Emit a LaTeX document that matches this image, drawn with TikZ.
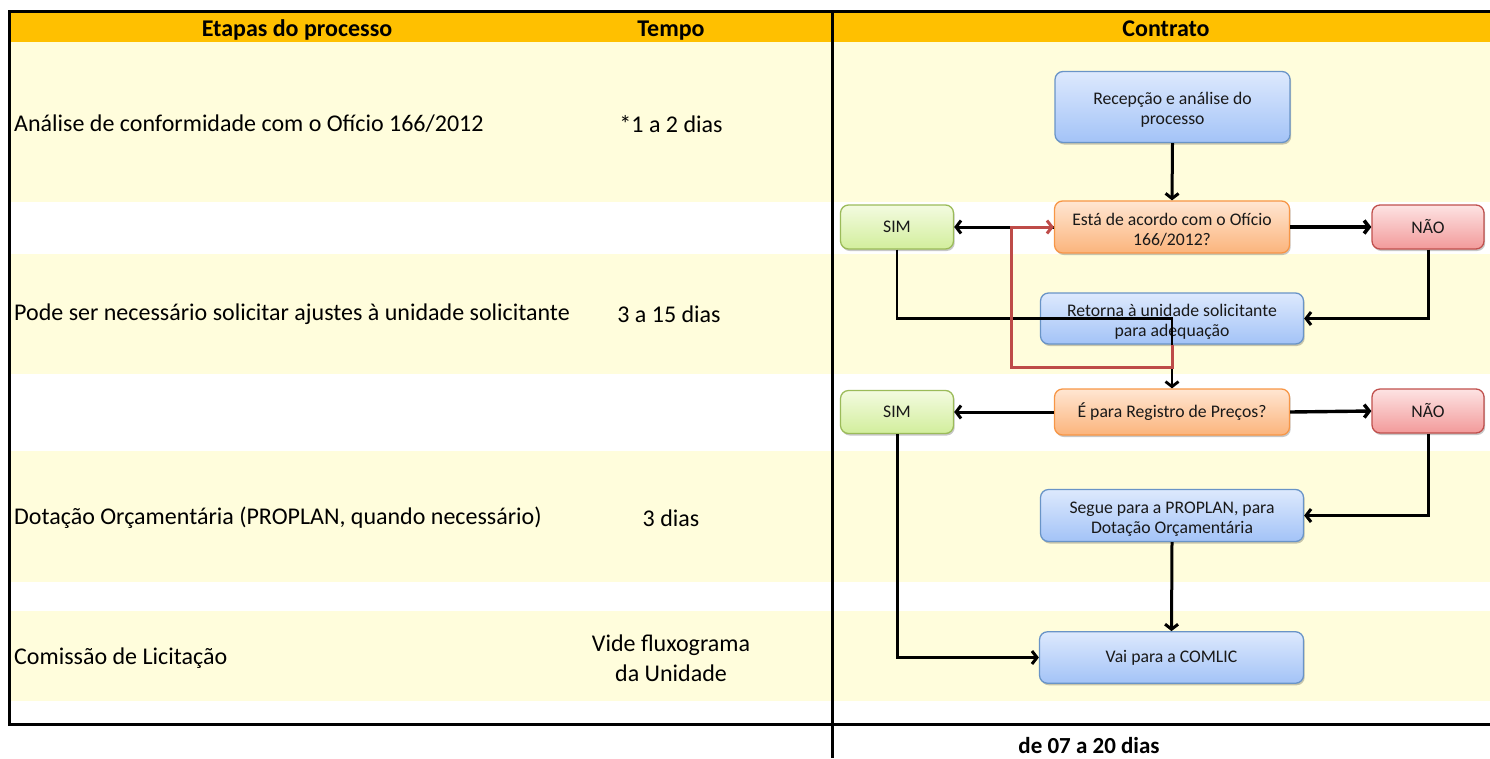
\documentclass[tikz,border=0pt]{standalone}
\usepackage{fontspec}
\setmainfont{Carlito}
\usetikzlibrary{arrows.meta,shadows}
\definecolor{hdr}{HTML}{FFC000}
\definecolor{band}{HTML}{FFFDDC}
\definecolor{blueT}{HTML}{DDE9FD}
\definecolor{blueB}{HTML}{A3C3F7}
\definecolor{blueD}{HTML}{4F81BD}
\definecolor{orT}{HTML}{FFE6D2}
\definecolor{orB}{HTML}{FBB47C}
\definecolor{orD}{HTML}{F79646}
\definecolor{grT}{HTML}{F3FBE0}
\definecolor{grB}{HTML}{D2EE9C}
\definecolor{grD}{HTML}{9BBB59}
\definecolor{rdT}{HTML}{FDE3E3}
\definecolor{rdB}{HTML}{F29A9A}
\definecolor{rdD}{HTML}{C0504D}
\definecolor{redline}{HTML}{BE4B48}
\begin{document}
\begin{tikzpicture}[x=1pt,y=-1pt,
  tabtext/.style={font=\fontsize{24}{29}\selectfont, inner sep=0pt, align=center},
  hdrtext/.style={font=\bfseries\fontsize{24}{29}\selectfont, inner sep=0pt, anchor=base},
  box/.style={rounded corners=8pt, line width=1.3pt, inner sep=0pt, align=center,
    font=\fontsize{17.7}{20}\selectfont, text=black!90,
    drop shadow={shadow xshift=1.2pt, shadow yshift=-2pt, fill=black, opacity=0.22}},
  twoline/.style={text height=38pt},
  bluebox/.style={box, draw=blueD!85, top color=blueT, bottom color=blueB},
  orbox/.style={box, draw=orD, top color=orT, bottom color=orB},
  grbox/.style={box, draw=grD, top color=grT, bottom color=grB},
  rdbox/.style={box, draw=rdD, top color=rdT, bottom color=rdB},
  arr/.style={line width=3pt, -{Straight Barb[length=5pt,width=13pt]}},
  thinarr/.style={line width=2.3pt, -{Straight Barb[length=5pt,width=13pt,line width=2.8pt]}},
  redarr/.style={draw=redline, line width=3pt, -{Straight Barb[length=5pt,width=13pt]}},
  rule/.style={line width=3pt, black}
]
\useasboundingbox (0,0) rectangle (1490,758);
% bands
\fill[hdr] (10,13) rectangle (1490,42);
\fill[band] (10,42) rectangle (1490,202);
\fill[band] (10,254) rectangle (1490,374);
\fill[band] (10,451) rectangle (1490,582);
\fill[band] (10,611) rectangle (1490,701);
% rules
\draw[rule] (8,11.5) -- (1490,11.5);
\draw[rule] (9.5,11.5) -- (9.5,725);
\draw[rule] (8,724) -- (1490,724);
\draw[rule] (832,11.5) -- (832,758);
% header texts
\node[hdrtext] (h1) at (297,36.5) {Etapas do processo};
\node[hdrtext] (h2) at (671,36.5) {Tempo};
\node[hdrtext] (h3) at (1166,36.5) {Contrato};
% left texts
\node[tabtext, anchor=west] (l1) at (14,124) {Análise de conformidade com o Ofício 166/2012};
\node[tabtext] (t1) at (671,124) {*1 a 2 dias};
\node[tabtext, anchor=west] (l2) at (14,314) {Pode ser necessário solicitar ajustes à unidade solicitante};
\node[tabtext] (t2) at (669,314) {3 a 15 dias};
\node[tabtext, anchor=west] (l3) at (14,518) {Dotação Orçamentária (PROPLAN, quando necessário)};
\node[tabtext] (t3) at (671,518) {3 dias};
\node[tabtext, anchor=west] (l4) at (14,658) {Comissão de Licitação};
\node[tabtext, font=\fontsize{24}{30}\selectfont] (t4) at (671,658) {Vide fluxograma\\da Unidade};
\node[hdrtext, font=\bfseries\fontsize{23}{28}\selectfont] (tot) at (1089,753.5) {de 07 a 20 dias};
% flow nodes
\node[bluebox, twoline, minimum width=235pt, minimum height=71pt] (rec) at (1172.5,107) {Recepção e análise do\\processo};
\node[orbox, twoline, minimum width=235pt, minimum height=52pt] (est) at (1172,227) {Está de acordo com o Ofício\\166/2012?};
\node[grbox, minimum width=113pt, minimum height=44pt] (sim1) at (897,227) {SIM};
\node[rdbox, minimum width=112pt, minimum height=44pt] (nao1) at (1428,227) {NÃO};
\node[bluebox, twoline, minimum width=263pt, minimum height=51pt] (ret) at (1172,318.5) {Retorna à unidade solicitante\\para adequação};
\node[orbox, minimum width=235pt, minimum height=46pt] (reg) at (1172,412) {É para Registro de Preços?};
\node[grbox, minimum width=113pt, minimum height=43pt] (sim2) at (897,412) {SIM};
\node[rdbox, minimum width=112pt, minimum height=44pt] (nao2) at (1428,411) {NÃO};
\node[bluebox, twoline, minimum width=263pt, minimum height=52pt] (seg) at (1172,515.5) {Segue para a PROPLAN, para\\Dotação Orçamentária};
\node[bluebox, minimum width=264pt, minimum height=51.5pt] (vai) at (1171.5,657.5) {Vai para a COMLIC};
% connectors
\draw[arr] (rec.south) -- (est.north);
\draw[arr] (est.west) -- (sim1.east);
\draw[arr, line width=3.6pt] (est.east) -- (nao1.west);
\draw[arr] (nao1.south) |- (ret.east);
\draw[thinarr] (sim1.south) |- (ret.center) -- (reg.north);
\draw[redarr] (ret.south) -- ++(0,23) -| ([xshift=-42pt]est.west) -- (est.west);
\draw[arr] (reg.west) -- (sim2.east);
\draw[arr, line width=3.4pt] (reg.east) -- (nao2.west);
\draw[arr] (nao2.south) |- (seg.east);
\draw[arr] (seg.south) -- (vai.north);
\draw[arr] (sim2.south) |- (vai.west);
\end{tikzpicture}
\end{document}
